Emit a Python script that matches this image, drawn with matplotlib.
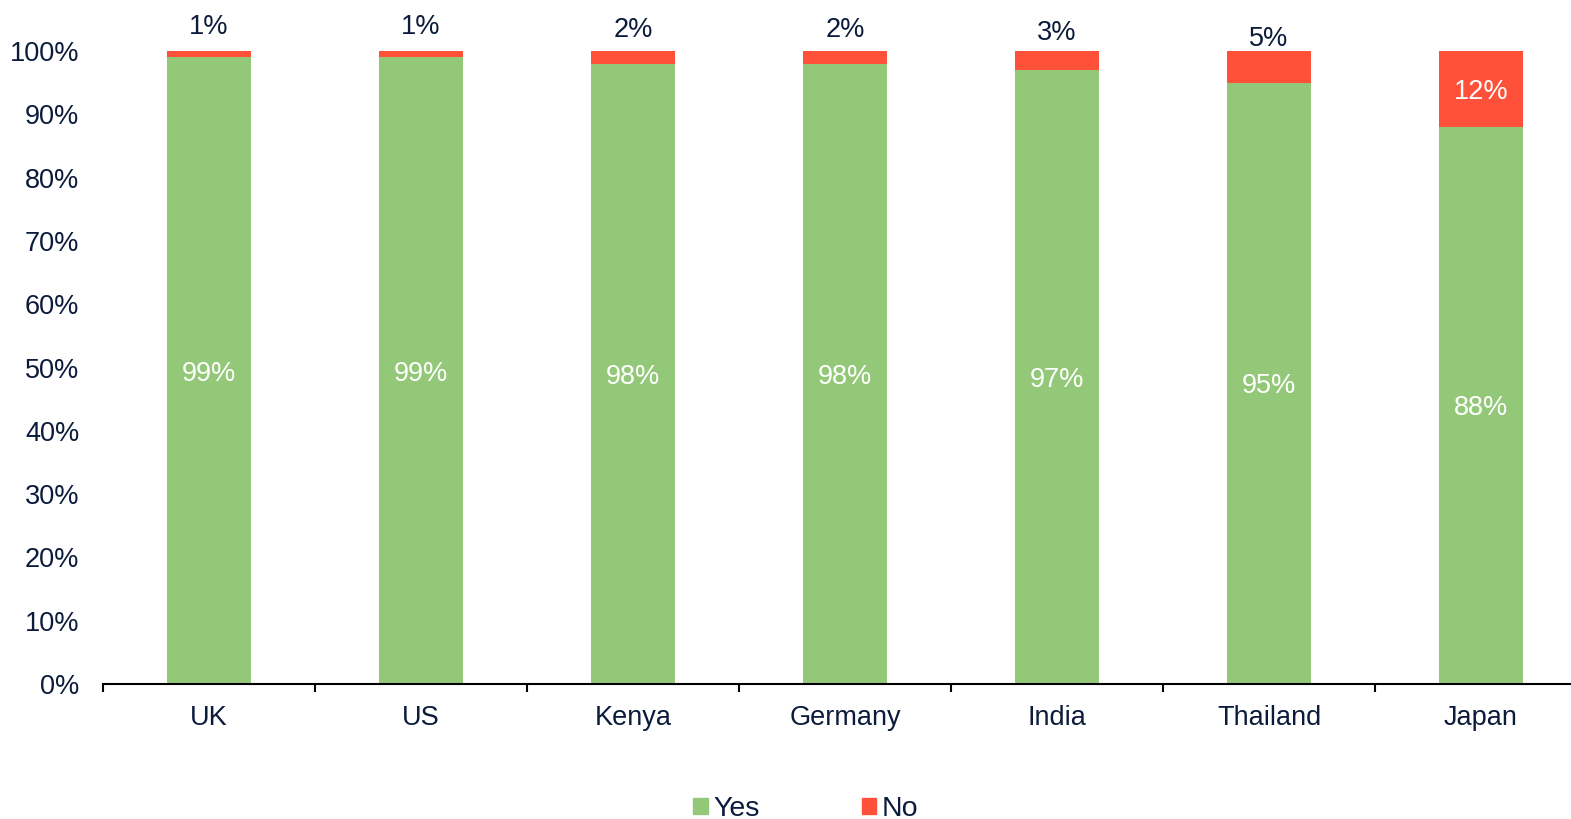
import matplotlib
matplotlib.use("Agg")
import matplotlib.pyplot as plt
from matplotlib.ticker import FuncFormatter, MultipleLocator
from matplotlib.patches import Patch

plt.rcParams['font.family'] = ['Liberation Sans', 'DejaVu Sans']

countries = ["UK", "US", "Kenya", "Germany", "India", "Thailand", "Japan"]
yes = [99, 99, 98, 98, 97, 95, 88]
no = [1, 1, 2, 2, 3, 5, 12]

green = "#93C879"
red = "#FF5039"
txt = "#0B1B3B"
fs = 19.5

W, H = 1571, 819
fig = plt.figure(figsize=(W / 100, H / 100), dpi=100)
ax_left, ax_right = 103, 1587
ax_top, ax_bot = 51, 684
ax = fig.add_axes([ax_left / W, 1 - ax_bot / H, (ax_right - ax_left) / W, (ax_bot - ax_top) / H])

x = list(range(len(countries)))
ax.bar(x, yes, width=0.4, color=green, label="Yes")
ax.bar(x, no, width=0.4, bottom=yes, color=red, label="No")

for i in x:
    ax.text(i, yes[i] / 2, f"{yes[i]}%", ha="center", va="center_baseline", color="white", fontsize=fs)
    if no[i] >= 10:
        ax.text(i, yes[i] + no[i] / 2, f"{no[i]}%", ha="center", va="center_baseline", color="white", fontsize=fs)
    else:
        ax.annotate(f"{no[i]}%", (i, yes[i] + no[i] / 2), xytext=(0, 22), textcoords="offset points",
                    ha="center", va="center_baseline", color=txt, fontsize=fs, annotation_clip=False)

ax.set_xlim(-0.5, len(countries) - 0.5)
ax.set_ylim(0, 100)
ax.yaxis.set_major_locator(MultipleLocator(10))
ax.yaxis.set_major_formatter(FuncFormatter(lambda v, p: f"{v:.0f}%"))
ax.tick_params(axis="y", length=0, labelsize=fs, labelcolor=txt, pad=17)

ax.set_xticks(x)
ax.set_xticklabels(countries)
ax.tick_params(axis="x", which="major", length=0, labelsize=fs, labelcolor=txt, pad=15)
ax.set_xticks([i - 0.5 for i in range(len(countries) + 1)], minor=True)
ax.tick_params(axis="x", which="minor", length=6, width=1.5, color="black", direction="out")

for s in ["top", "right", "left"]:
    ax.spines[s].set_visible(False)
ax.spines["bottom"].set_linewidth(1.5)
ax.spines["bottom"].set_color("black")

handles = [Patch(color=green, label="Yes"), Patch(color=red, label="No")]
fig.legend(handles=handles, loc="center", bbox_to_anchor=(806 / W, 1 - 809 / H), ncol=2,
           frameon=False, fontsize=20.5, handlelength=0.5, handleheight=0.5, handletextpad=0.2,
           columnspacing=3.6, labelcolor=txt)

fig.savefig("out.png", dpi=100)
